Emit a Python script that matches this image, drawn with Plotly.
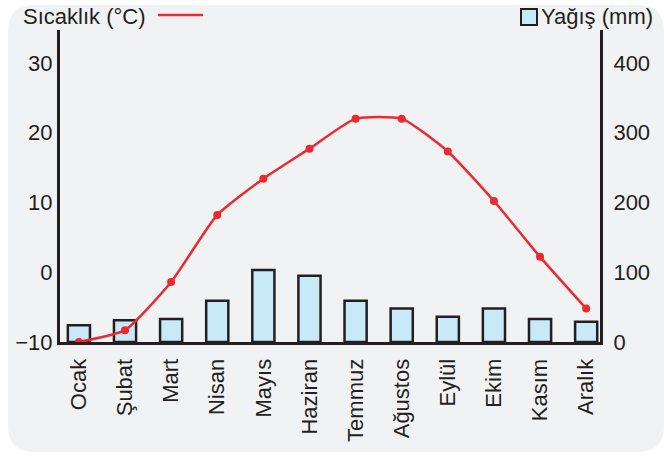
import plotly.graph_objects as go

months = ["Ocak", "Şubat", "Mart", "Nisan", "Mayıs", "Haziran",
          "Temmuz", "Ağustos", "Eylül", "Ekim", "Kasım", "Aralık"]
temperature_c = [-10.0, -8.3, -1.4, 8.2, 13.4, 17.7, 22.0, 22.0, 17.3, 10.2, 2.2, -5.2]
precip_mm = [24, 31, 33, 59, 103, 95, 59, 48, 36, 48, 33, 29]
temp_ticks = [-10, 0, 10, 20, 30]
precip_ticks = [0, 100, 200, 300, 400]

TXT = "#231f20"
RED = "#ea2a2f"
BLUE = "#c8e9f8"
FONT = "Liberation Sans, Arial, sans-serif"

W, H = 664, 456
L, T = 60, 30
R = W - 600
B = H - 342
PW, PH = W - L - R, H - T - B


def px(x):
    return (x - L) / PW


def py(y):
    return (H - B - y) / PH


fig = go.Figure()
fig.add_trace(go.Bar(
    x=months, y=precip_mm, yaxis="y",
    marker=dict(color=BLUE, line=dict(color=TXT, width=2.5)),
    width=0.48, showlegend=False,
))
fig.add_trace(go.Scatter(
    x=months, y=temperature_c, yaxis="y2", mode="lines+markers",
    line=dict(color=RED, width=2.5, shape="spline", smoothing=0.5),
    marker=dict(color=RED, size=8),
    showlegend=False,
))

# rounded background panel
x0, x1, y0, y1 = 8, 664, 5, 452
r = 26
path = (f"M {px(x0 + r)},{py(y0)} L {px(x1 - r)},{py(y0)} "
        f"Q {px(x1)},{py(y0)} {px(x1)},{py(y0 + r)} "
        f"L {px(x1)},{py(y1 - r)} Q {px(x1)},{py(y1)} {px(x1 - r)},{py(y1)} "
        f"L {px(x0 + r)},{py(y1)} Q {px(x0)},{py(y1)} {px(x0)},{py(y1 - r)} "
        f"L {px(x0)},{py(y0 + r)} Q {px(x0)},{py(y0)} {px(x0 + r)},{py(y0)} Z")
shapes = [
    dict(type="path", xref="paper", yref="paper", path=path,
         fillcolor="#f1f2f4", line=dict(width=0), layer="below"),
    # legend symbols
    dict(type="line", xref="paper", yref="paper",
         x0=px(158), x1=px(203), y0=py(15), y1=py(15),
         line=dict(color=RED, width=2.5)),
    dict(type="rect", xref="paper", yref="paper",
         x0=px(521), x1=px(537), y0=py(9), y1=py(25),
         fillcolor=BLUE, line=dict(color=TXT, width=2)),
]
annotations = [
    dict(xref="paper", yref="paper", x=px(21), y=py(17), xanchor="left", yanchor="middle",
         text="Sıcaklık (°C)", showarrow=False, font=dict(size=22, color=TXT, family=FONT)),
    dict(xref="paper", yref="paper", x=px(539), y=py(17), xanchor="left", yanchor="middle",
         text="Yağış (mm)", showarrow=False, font=dict(size=22, color=TXT, family=FONT)),
]

fig.update_layout(
    width=W, height=H,
    margin=dict(l=L, r=R, t=T, b=B, autoexpand=False),
    paper_bgcolor="white", plot_bgcolor="rgba(0,0,0,0)",
    font=dict(family=FONT, size=22, color=TXT),
    shapes=shapes, annotations=annotations,
    bargap=0.5,
    xaxis=dict(
        range=[-0.41, 11.3],
        tickangle=-90, showgrid=False, zeroline=False,
        showline=True, linecolor=TXT, linewidth=3,
        ticks="", ticklabelstandoff=5,
        tickfont=dict(size=22, color=TXT, family=FONT),
    ),
    yaxis=dict(
        side="right", range=[0, 447], tickvals=precip_ticks,
        showgrid=False, zeroline=False, showline=True, linecolor=TXT, linewidth=3,
        ticks="", ticklabelstandoff=6,
        tickfont=dict(size=22, color=TXT, family=FONT),
    ),
    yaxis2=dict(
        side="left", overlaying="y", range=[-10, 34.7], tickvals=temp_ticks,
        showgrid=False, zeroline=False, showline=True, linecolor=TXT, linewidth=3,
        ticks="", ticklabelstandoff=0,
        tickfont=dict(size=22, color=TXT, family=FONT),
    ),
)

fig.write_html(
    "out.html",
    config={"displayModeBar": False},
    post_script="document.body.style.margin='0';document.body.style.overflow='hidden';",
)
